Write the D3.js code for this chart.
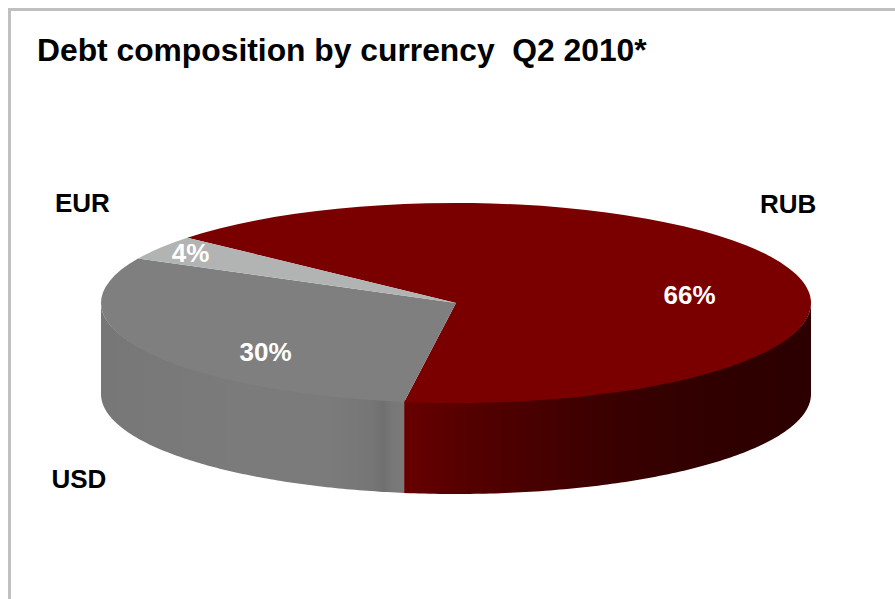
<!DOCTYPE html>
<html>
<head>
<meta charset="utf-8">
<script src="https://cdn.jsdelivr.net/npm/d3@7"></script>
<style>
html, body { margin: 0; padding: 0; background: #fff; }
svg { display: block; }
text { font-family: "Liberation Sans", Arial, sans-serif; font-weight: bold; }
</style>
</head>
<body>
<svg id="chart" width="895" height="599"></svg>
<script>
// Debt shares by currency, clockwise from RUB
const currencies = ["RUB", "USD", "EUR"];
const shares = [66, 30, 4];
const valueLabels = ["66%", "30%", "4%"];
const topColors = ["#7a0000", "#7f7f7f", "#b2b4b4"];
const titleText = "Debt composition by currency\u00a0\u00a0Q2 2010*";

const width = 895, height = 599;
const cx = 456, cy = 303, rx = 355, ry = 100, depth = 91;
const startDeg = 310.8;

const svg = d3.select("#chart");
const defs = svg.append("defs");

// Side-wall shading runs left to right across the disc
const wallGradients = [
  { id: "wall-rub", stops: [[0.424, "#680000"], [0.52, "#540000"], [0.6, "#4a0000"], [0.7, "#3c0000"], [0.84, "#310000"], [1, "#2c0000"]] },
  { id: "wall-usd", stops: [[0, "#777777"], [0.2, "#7b7b7b"], [0.32, "#7b7b7b"], [0.38, "#767676"], [0.398, "#707070"], [0.41, "#777777"], [0.427, "#7a7a7a"]] }
];
wallGradients.forEach(g => {
  const lg = defs.append("linearGradient")
    .attr("id", g.id).attr("gradientUnits", "userSpaceOnUse")
    .attr("x1", cx - rx).attr("x2", cx + rx).attr("y1", 0).attr("y2", 0);
  g.stops.forEach(s => lg.append("stop").attr("offset", s[0]).attr("stop-color", s[1]));
});

// Frame: only the top and left rules fall inside the page
svg.append("rect").attr("x", 9.5).attr("y", 9.5)
  .attr("width", width).attr("height", height)
  .attr("fill", "#fff").attr("stroke", "#c0c0c0").attr("stroke-width", 3);

const pie = d3.pie().sort(null)
  .startAngle(startDeg * Math.PI / 180)
  .endAngle((startDeg + 360) * Math.PI / 180);
const slices = pie(shares).map((s, i) => ({ ...s, i }));

const px = a => cx + rx * Math.sin(a);
const py = (a, r = ry) => cy - r * Math.cos(a);

// Side walls: visible only on the front half of the ellipse.
// The upper edge tucks slightly under the top face so no seam shows.
function wallPath(a0, a1) {
  const lo = Math.max(a0, Math.PI / 2), hi = Math.min(a1, 3 * Math.PI / 2);
  if (hi <= lo) return null;
  const p = d3.path();
  const steps = d3.range(lo, hi, (hi - lo) / 120).concat(hi);
  p.moveTo(px(lo), py(lo, ry - 2));
  steps.forEach(a => p.lineTo(px(a), py(a, ry - 2)));
  steps.slice().reverse().forEach(a => p.lineTo(px(a), py(a) + depth));
  p.closePath();
  return p.toString();
}

const norm = a => a - 2 * Math.PI * Math.floor(a / (2 * Math.PI));
const walls = [
  { id: "wall-usd", d: wallPath(norm(slices[1].startAngle), 3 * Math.PI / 2) },
  { id: "wall-rub", d: wallPath(Math.PI / 2, norm(slices[0].endAngle)) }
];
svg.append("g").selectAll("path").data(walls).join("path")
  .attr("d", d => d.d).attr("fill", d => `url(#${d.id})`);

// Top face: a circular pie squashed into an ellipse
const arc = d3.arc().innerRadius(0).outerRadius(rx);
svg.append("g")
  .attr("transform", `translate(${cx},${cy}) scale(1,${ry / rx})`)
  .selectAll("path").data(slices).join("path")
  .attr("d", arc).attr("fill", d => topColors[d.i]);

// Title
svg.append("text").attr("x", 37).attr("y", 60.5)
  .attr("font-size", 31.8).attr("fill", "#000").text(titleText);

// Currency names beside the disc
const namePositions = { RUB: [760, 212.5], EUR: [55, 212], USD: [51.5, 487.5] };
svg.append("g").selectAll("text").data(currencies).join("text")
  .attr("x", d => namePositions[d][0]).attr("y", d => namePositions[d][1])
  .attr("font-size", 26).attr("fill", "#000").text(d => d);

// Percentages on the slices
const valuePositions = [[689.5, 304], [265.5, 361], [190.5, 262]];
svg.append("g").selectAll("text").data(valueLabels).join("text")
  .attr("x", (d, i) => valuePositions[i][0]).attr("y", (d, i) => valuePositions[i][1])
  .attr("text-anchor", "middle")
  .attr("font-size", 26).attr("fill", "#fff").text(d => d);
</script>
</body>
</html>
